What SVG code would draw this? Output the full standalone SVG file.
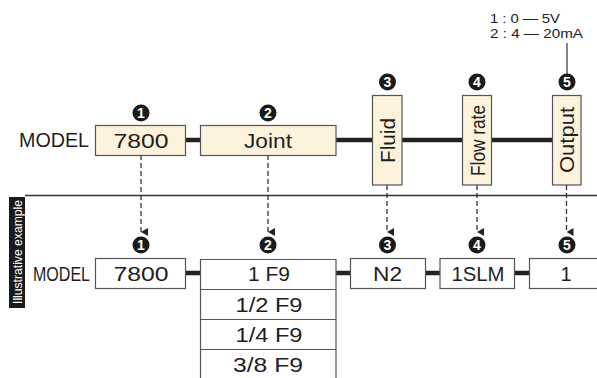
<svg xmlns="http://www.w3.org/2000/svg" width="597" height="378" viewBox="0 0 597 378">
<defs>
<marker id="ah" viewBox="0 0 8 7" refX="4" refY="7" markerWidth="8" markerHeight="7" markerUnits="userSpaceOnUse" orient="auto-start-reverse">
<path d="M0,0 L8,0 L4,7 Z" fill="#222"/>
</marker>
<style>
.box{fill:#fdf2dc;stroke:#555;stroke-width:1.2}
.wbox{fill:#fff;stroke:#555;stroke-width:1.2}
.t{font-family:"Liberation Sans",Arial,sans-serif;font-size:20px;fill:#1e1e1e;text-anchor:middle}
.thick{stroke:#222;stroke-width:4.5;fill:none}
.dash{stroke:#333;stroke-width:1.3;stroke-dasharray:5 3;fill:none}
.num{fill:#1a1a1a}
.nt{font-family:"Liberation Sans",Arial,sans-serif;font-size:14px;font-weight:bold;fill:#fff;text-anchor:middle}
.small{font-family:"Liberation Sans",Arial,sans-serif;font-size:13.3px;fill:#222}
</style>
</defs>
<rect width="597" height="378" fill="#fff"/>

<g id="connectors">
<line class="thick" x1="186" y1="140" x2="200" y2="140"/>
<line class="thick" x1="336" y1="140" x2="372" y2="140"/>
<line class="thick" x1="402" y1="140" x2="462" y2="140"/>
<line class="thick" x1="491" y1="140" x2="552" y2="140"/>
<line class="thick" x1="186" y1="273" x2="200" y2="273"/>
<line class="thick" x1="336" y1="273" x2="350" y2="273"/>
<line class="thick" x1="425" y1="273" x2="440" y2="273"/>
<line class="thick" x1="514" y1="273" x2="529" y2="273"/>
<line class="dash" x1="141" y1="155" x2="141" y2="232" marker-end="url(#ah)"/>
<line class="dash" x1="268" y1="155" x2="268" y2="232" marker-end="url(#ah)"/>
<line class="dash" x1="387" y1="185" x2="387" y2="232" marker-end="url(#ah)"/>
<line class="dash" x1="477" y1="185" x2="477" y2="232" marker-end="url(#ah)"/>
<line class="dash" x1="566.5" y1="185" x2="566.5" y2="232" marker-end="url(#ah)"/>
<line x1="567" y1="43" x2="567" y2="74" stroke="#333" stroke-width="1.2"/>
</g>

<line id="separator" x1="25" y1="195.5" x2="597" y2="195.5" stroke="#333" stroke-width="1.3"/>

<g id="label-illustrative">
<rect x="9" y="197" width="16" height="111" fill="#1a1a1a"/>
<text transform="translate(21.5,304) rotate(-90)" font-family="'Liberation Sans',Arial,sans-serif" font-size="12.5" fill="#fff" textLength="104" lengthAdjust="spacingAndGlyphs">Illustrative example</text>
</g>

<text id="model-top" class="t" x="19" y="147" style="text-anchor:start" textLength="70" lengthAdjust="spacingAndGlyphs">MODEL</text>
<text id="model-bottom" class="t" x="33" y="281" style="text-anchor:start" textLength="57" lengthAdjust="spacingAndGlyphs">MODEL</text>

<g id="range-note">
<text class="small" x="490" y="23" textLength="70" lengthAdjust="spacingAndGlyphs">1 : 0 — 5V</text>
<text class="small" x="490" y="38" textLength="93" lengthAdjust="spacingAndGlyphs">2 : 4 — 20mA</text>
</g>

<g id="n1-top">
<circle class="num" cx="141" cy="113" r="8.5"/><text class="nt" x="141" y="118">1</text>
<rect class="box" x="95.5" y="125.5" width="90" height="30"/>
<text class="t" x="141" y="147.5" textLength="55" lengthAdjust="spacingAndGlyphs">7800</text>
</g>
<g id="n2-top">
<circle class="num" cx="268" cy="113" r="8.5"/><text class="nt" x="268" y="118">2</text>
<rect class="box" x="200.5" y="125.5" width="135.5" height="30"/>
<text class="t" x="268" y="147.5" textLength="48" lengthAdjust="spacingAndGlyphs">Joint</text>
</g>
<g id="n3-top">
<circle class="num" cx="387.5" cy="82" r="8.5"/><text class="nt" x="387.5" y="87">3</text>
<rect class="box" x="372.5" y="95.5" width="29.5" height="89.5"/>
<text class="t" transform="translate(394.5,140.5) rotate(-90)" x="0" y="0" textLength="45" lengthAdjust="spacingAndGlyphs">Fluid</text>
</g>
<g id="n4-top">
<circle class="num" cx="477" cy="82" r="8.5"/><text class="nt" x="477" y="87">4</text>
<rect class="box" x="462.5" y="95.5" width="29" height="89.5"/>
<text class="t" transform="translate(484.5,140.5) rotate(-90)" x="0" y="0" textLength="71" lengthAdjust="spacingAndGlyphs">Flow rate</text>
</g>
<g id="n5-top">
<circle class="num" cx="567" cy="82" r="8.5"/><text class="nt" x="567" y="87">5</text>
<rect class="box" x="552.5" y="95.5" width="28.5" height="89.5"/>
<text class="t" transform="translate(574,140) rotate(-90)" x="0" y="0" textLength="66" lengthAdjust="spacingAndGlyphs">Output</text>
</g>

<g id="n1-bottom">
<circle class="num" cx="141" cy="245" r="8.5"/><text class="nt" x="141" y="250">1</text>
<rect class="wbox" x="95.5" y="258.5" width="90" height="30"/>
<text class="t" x="141" y="281" textLength="55" lengthAdjust="spacingAndGlyphs">7800</text>
</g>
<g id="n2-bottom">
<circle class="num" cx="268" cy="245" r="8.5"/><text class="nt" x="268" y="250">2</text>
<path class="wbox" d="M200.5,378 V259.5 H336 V378"/>
<line x1="200.5" y1="289.5" x2="336" y2="289.5" stroke="#555" stroke-width="1.2"/>
<line x1="200.5" y1="319.5" x2="336" y2="319.5" stroke="#555" stroke-width="1.2"/>
<line x1="200.5" y1="349.5" x2="336" y2="349.5" stroke="#555" stroke-width="1.2"/>
<text class="t" x="269" y="281" textLength="42" lengthAdjust="spacingAndGlyphs">1 F9</text>
<text class="t" x="269" y="312" textLength="67" lengthAdjust="spacingAndGlyphs">1/2 F9</text>
<text class="t" x="269" y="342" textLength="67" lengthAdjust="spacingAndGlyphs">1/4 F9</text>
<text class="t" x="268" y="372" textLength="70" lengthAdjust="spacingAndGlyphs">3/8 F9</text>
</g>
<g id="n3-bottom">
<circle class="num" cx="387.5" cy="245" r="8.5"/><text class="nt" x="387.5" y="250">3</text>
<rect class="wbox" x="350.5" y="258.5" width="75" height="30"/>
<text class="t" x="387.5" y="281" textLength="29" lengthAdjust="spacingAndGlyphs">N2</text>
</g>
<g id="n4-bottom">
<circle class="num" cx="477" cy="245" r="8.5"/><text class="nt" x="477" y="250">4</text>
<rect class="wbox" x="440" y="258.5" width="74.5" height="30"/>
<text class="t" x="478" y="281" textLength="53" lengthAdjust="spacingAndGlyphs">1SLM</text>
</g>
<g id="n5-bottom">
<circle class="num" cx="567" cy="245" r="8.5"/><text class="nt" x="567" y="250">5</text>
<rect class="wbox" x="529.5" y="258.5" width="70" height="30"/>
<text class="t" x="566" y="281">1</text>
</g>
</svg>
